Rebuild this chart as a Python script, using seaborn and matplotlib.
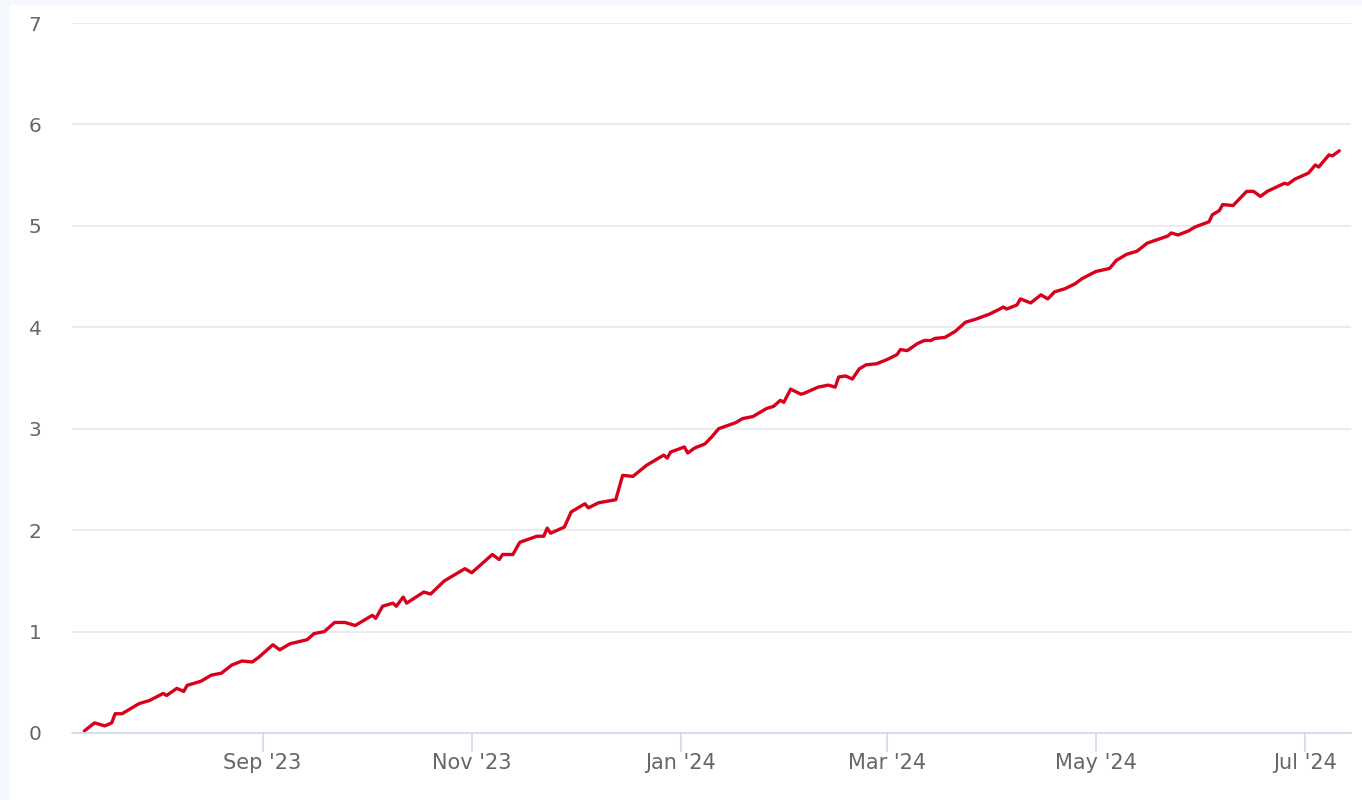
import matplotlib
matplotlib.use("Agg")
import matplotlib.pyplot as plt
import matplotlib.patches as mpatches
import seaborn as sns
import pandas as pd

dates = [
    "2023-07-11", "2023-07-14", "2023-07-17", "2023-07-19", "2023-07-20", "2023-07-22",
    "2023-07-27", "2023-07-30", "2023-08-03", "2023-08-04", "2023-08-07", "2023-08-09",
    "2023-08-10", "2023-08-14", "2023-08-17", "2023-08-20", "2023-08-23", "2023-08-26",
    "2023-08-29", "2023-08-31", "2023-09-04", "2023-09-06", "2023-09-09", "2023-09-14",
    "2023-09-16", "2023-09-19", "2023-09-22", "2023-09-25", "2023-09-28", "2023-09-30",
    "2023-10-03", "2023-10-04", "2023-10-06", "2023-10-09", "2023-10-10", "2023-10-12",
    "2023-10-13", "2023-10-18", "2023-10-20", "2023-10-24", "2023-10-30", "2023-11-01",
    "2023-11-07", "2023-11-09", "2023-11-10", "2023-11-13", "2023-11-15", "2023-11-20",
    "2023-11-22", "2023-11-23", "2023-11-24", "2023-11-28", "2023-11-30", "2023-12-04",
    "2023-12-05", "2023-12-08", "2023-12-13", "2023-12-15", "2023-12-18", "2023-12-22",
    "2023-12-27", "2023-12-28", "2023-12-29", "2024-01-02", "2024-01-03", "2024-01-05",
    "2024-01-08", "2024-01-10", "2024-01-12", "2024-01-17", "2024-01-19", "2024-01-22",
    "2024-01-26", "2024-01-28", "2024-01-30", "2024-01-31", "2024-02-02", "2024-02-05",
    "2024-02-06", "2024-02-10", "2024-02-13", "2024-02-15", "2024-02-16", "2024-02-18",
    "2024-02-20", "2024-02-22", "2024-02-24", "2024-02-27", "2024-03-01", "2024-03-04",
    "2024-03-05", "2024-03-07", "2024-03-10", "2024-03-12", "2024-03-14", "2024-03-15",
    "2024-03-18", "2024-03-21", "2024-03-24", "2024-03-27", "2024-03-31", "2024-04-03",
    "2024-04-04", "2024-04-05", "2024-04-08", "2024-04-09", "2024-04-12", "2024-04-15",
    "2024-04-17", "2024-04-19", "2024-04-22", "2024-04-25", "2024-04-27", "2024-05-01",
    "2024-05-05", "2024-05-07", "2024-05-10", "2024-05-13", "2024-05-16", "2024-05-22",
    "2024-05-23", "2024-05-25", "2024-05-28", "2024-05-30", "2024-06-03", "2024-06-04",
    "2024-06-06", "2024-06-07", "2024-06-10", "2024-06-14", "2024-06-16", "2024-06-18",
    "2024-06-20", "2024-06-25", "2024-06-26", "2024-06-28", "2024-07-02", "2024-07-04",
    "2024-07-05", "2024-07-08", "2024-07-09", "2024-07-11",
]
values = [
    0.02, 0.10, 0.07, 0.10, 0.19, 0.19,
    0.29, 0.32, 0.39, 0.37, 0.44, 0.41,
    0.47, 0.51, 0.57, 0.59, 0.67, 0.71,
    0.70, 0.75, 0.87, 0.82, 0.88, 0.92,
    0.98, 1.00, 1.09, 1.09, 1.06, 1.10,
    1.16, 1.13, 1.25, 1.28, 1.25, 1.34,
    1.28, 1.39, 1.37, 1.50, 1.62, 1.58,
    1.76, 1.71, 1.76, 1.76, 1.88, 1.94,
    1.94, 2.02, 1.97, 2.03, 2.18, 2.26,
    2.22, 2.27, 2.30, 2.54, 2.53, 2.64,
    2.74, 2.71, 2.77, 2.82, 2.76, 2.81,
    2.85, 2.92, 3.00, 3.06, 3.10, 3.12,
    3.20, 3.22, 3.28, 3.26, 3.39, 3.34,
    3.35, 3.41, 3.43, 3.41, 3.51, 3.52,
    3.49, 3.59, 3.63, 3.64, 3.68, 3.73,
    3.78, 3.77, 3.84, 3.87, 3.87, 3.89,
    3.90, 3.96, 4.05, 4.08, 4.13, 4.18,
    4.20, 4.18, 4.22, 4.28, 4.24, 4.32,
    4.28, 4.35, 4.38, 4.43, 4.48, 4.55,
    4.58, 4.66, 4.72, 4.75, 4.83, 4.90,
    4.93, 4.91, 4.95, 4.99, 5.04, 5.11,
    5.15, 5.21, 5.20, 5.34, 5.34, 5.29,
    5.34, 5.42, 5.41, 5.46, 5.52, 5.60,
    5.58, 5.70, 5.69, 5.74,
]
tick_dates = ["2023-09-01", "2023-11-01", "2024-01-01", "2024-03-01", "2024-05-01", "2024-07-01"]
tick_labels = ["Sep '23", "Nov '23", "Jan '24", "Mar '24", "May '24", "Jul '24"]
y_ticks = [0, 1, 2, 3, 4, 5, 6, 7]

df = pd.DataFrame({"date": pd.to_datetime(dates), "value": values})

sns.set_theme(style="white")
plt.rcParams["font.family"] = ["DejaVu Sans"]

W, H = 1362, 800
fig = plt.figure(figsize=(W / 100, H / 100), dpi=100, facecolor="#f4f8fc")
fig.patches.append(mpatches.Rectangle((10 / W, 0), 1 - 10 / W, 1 - 5 / H,
                                      transform=fig.transFigure, facecolor="white",
                                      edgecolor="none", zorder=-5))
ax = fig.add_axes([72 / W, 67 / H, 1279 / W, 710 / H])
ax.set_facecolor("none")

sns.lineplot(data=df, x="date", y="value", ax=ax, color="#d9001b", linewidth=2.4,
             solid_joinstyle="round", solid_capstyle="round", zorder=3)

ax.set_xlim(pd.Timestamp("2023-07-07 10:00"), pd.Timestamp("2024-07-14 10:00"))
ax.set_ylim(0, 7)
ax.set_yticks(y_ticks)
ax.set_yticklabels([str(v) for v in y_ticks])
ax.set_xticks(pd.to_datetime(tick_dates))
ax.set_xticklabels(tick_labels)

ax.grid(axis="y", color="#e6e6e6", linewidth=1.1, zorder=0)
ax.grid(axis="x", visible=False)
for s in ["top", "right", "left"]:
    ax.spines[s].set_visible(False)
ax.spines["bottom"].set_color("#ccd6eb")
ax.spines["bottom"].set_linewidth(1.1)
ax.spines["bottom"].set_zorder(4)

ax.tick_params(axis="x", length=13.5, width=1.1, color="#ccd6eb", pad=1,
               labelsize=15, labelcolor="#666666", bottom=True)
ax.tick_params(axis="y", length=0, pad=22, labelsize=14.5, labelcolor="#666666")
ax.set_xlabel("")
ax.set_ylabel("")

fig.savefig("out.png", dpi=100, facecolor=fig.get_facecolor())
